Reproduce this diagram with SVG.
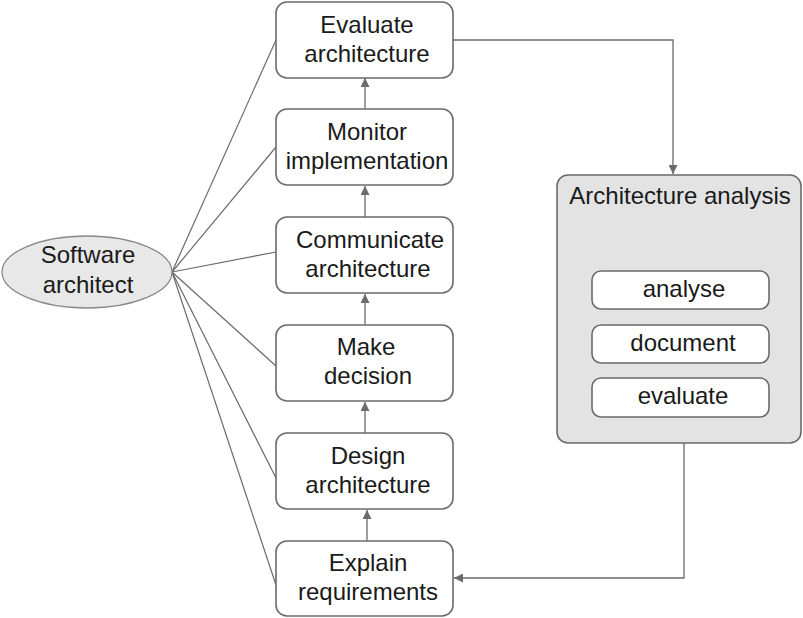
<svg xmlns="http://www.w3.org/2000/svg" width="803" height="618" viewBox="0 0 803 618">
<style>
.box{fill:#fff;stroke:#6b6b6b;stroke-width:1.6}
.grp{fill:#e3e3e4;stroke:#6b6b6b;stroke-width:1.6}
.ell{fill:#e8e8e8;stroke:#8a8a8a;stroke-width:1.3}
.t{font-family:"Liberation Sans",Arial,sans-serif;font-size:24px;fill:#1a1a1a;text-anchor:middle}
.ln{fill:none;stroke:#6b6b6b;stroke-width:1.2}
.ar{fill:none;stroke:#6b6b6b;stroke-width:1.3;marker-end:url(#ah)}
</style>
<defs>
<marker id="ah" viewBox="0 0 10 10" refX="10" refY="5" markerWidth="9" markerHeight="9" markerUnits="userSpaceOnUse" orient="auto">
<path d="M0,0 L10,5 L0,10 z" fill="#6b6b6b"/>
</marker>
</defs>
<rect width="803" height="618" fill="#fff"/>
<g id="connectors">
<line class="ln" x1="172" y1="272" x2="276" y2="40"/>
<line class="ln" x1="172" y1="272" x2="276" y2="147"/>
<line class="ln" x1="172" y1="272" x2="276" y2="252"/>
<line class="ln" x1="172" y1="272" x2="276" y2="366"/>
<line class="ln" x1="172" y1="272" x2="276" y2="478"/>
<line class="ln" x1="172" y1="272" x2="276" y2="585"/>
<line class="ar" x1="365" y1="109" x2="365" y2="78"/>
<line class="ar" x1="365" y1="217" x2="365" y2="186"/>
<line class="ar" x1="365" y1="325" x2="365" y2="294"/>
<line class="ar" x1="365" y1="433" x2="365" y2="402"/>
<line class="ar" x1="367" y1="541" x2="367" y2="510"/>
<polyline class="ar" points="453,40 673,40 673,174"/>
<polyline class="ar" points="684,443 684,578 454,578"/>
</g>
<g id="software-architect">
<ellipse class="ell" cx="87" cy="272" rx="85" ry="36"/>
<text class="t" x="88" y="263">Software</text>
<text class="t" x="88" y="293">architect</text>
</g>
<g id="evaluate-architecture">
<rect class="box" x="276" y="2" width="177" height="76" rx="11"/>
<text class="t" x="367" y="33">Evaluate</text>
<text class="t" x="367" y="62">architecture</text>
</g>
<g id="monitor-implementation">
<rect class="box" x="276" y="109" width="177" height="76" rx="11"/>
<text class="t" x="367" y="140">Monitor</text>
<text class="t" x="367" y="169">implementation</text>
</g>
<g id="communicate-architecture">
<rect class="box" x="276" y="217" width="177" height="76" rx="11"/>
<text class="t" x="370" y="248">Communicate</text>
<text class="t" x="368" y="277">architecture</text>
</g>
<g id="make-decision">
<rect class="box" x="276" y="325" width="177" height="76" rx="11"/>
<text class="t" x="366" y="355">Make</text>
<text class="t" x="368" y="384">decision</text>
</g>
<g id="design-architecture">
<rect class="box" x="276" y="433" width="177" height="76" rx="11"/>
<text class="t" x="368" y="464">Design</text>
<text class="t" x="368" y="493">architecture</text>
</g>
<g id="explain-requirements">
<rect class="box" x="276" y="541" width="177" height="75" rx="11"/>
<text class="t" x="368" y="571">Explain</text>
<text class="t" x="368" y="600">requirements</text>
</g>
<g id="architecture-analysis">
<rect class="grp" x="557" y="175" width="244" height="268" rx="11"/>
<text class="t" x="680" y="204">Architecture analysis</text>
</g>
<g id="analyse">
<rect class="box" x="592" y="271" width="177" height="38" rx="9"/>
<text class="t" x="684" y="297">analyse</text>
</g>
<g id="document">
<rect class="box" x="592" y="325" width="177" height="38" rx="9"/>
<text class="t" x="683" y="351">document</text>
</g>
<g id="evaluate">
<rect class="box" x="592" y="378" width="177" height="39" rx="9"/>
<text class="t" x="683" y="404">evaluate</text>
</g>
</svg>
